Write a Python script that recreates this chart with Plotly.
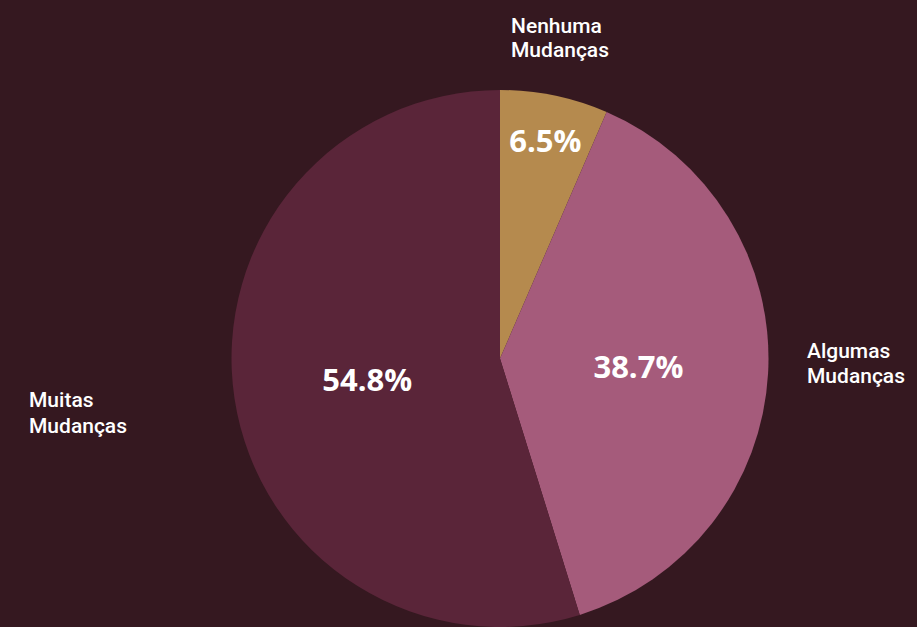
import plotly.graph_objects as go

categories = ["Nenhuma Mudanças", "Algumas Mudanças", "Muitas Mudanças"]
label_line1 = ["Nenhuma", "Algumas", "Muitas"]
label_line2 = ["Mudanças", "Mudanças", "Mudanças"]
values = [6.5, 38.7, 54.8]
colors = ["#B58A4E", "#A55B7B", "#5A2539"]
bg = "#351820"

W, H = 917, 627

fig = go.Figure()
fig.add_trace(go.Pie(
    labels=categories,
    values=values,
    sort=False,
    direction="clockwise",
    rotation=0,
    marker=dict(colors=colors, line=dict(width=0)),
    texttemplate="%{percent:.1%}",
    textposition="inside",
    insidetextorientation="horizontal",
    textfont=dict(family="Open Sans", size=31, color="white", weight=700),
    domain=dict(x=[(500 - 268.5) / W, (500 + 268.5) / W], y=[0, 1 - 90 / H]),
    showlegend=False,
    hoverinfo="label+percent",
))

label_mid = [(510, 38), (806, 363), (28, 413)]
for l1, l2, (px, py) in zip(label_line1, label_line2, label_mid):
    for txt, yy in ((l1, py - 12.5), (l2, py + 12.5)):
        fig.add_annotation(
            x=px / W, y=1 - yy / H, xref="paper", yref="paper",
            xanchor="left", yanchor="middle", align="left",
            text=txt, showarrow=False, borderpad=0,
            font=dict(family="Roboto", size=21, color="white", weight=500),
        )

fig.update_layout(
    width=W, height=H,
    margin=dict(l=0, r=0, t=0, b=0),
    paper_bgcolor=bg, plot_bgcolor=bg,
)

fig.write_html(
    "out.html",
    config={"displayModeBar": False},
    post_script="document.body.style.margin='0';document.body.style.overflow='hidden';",
)
